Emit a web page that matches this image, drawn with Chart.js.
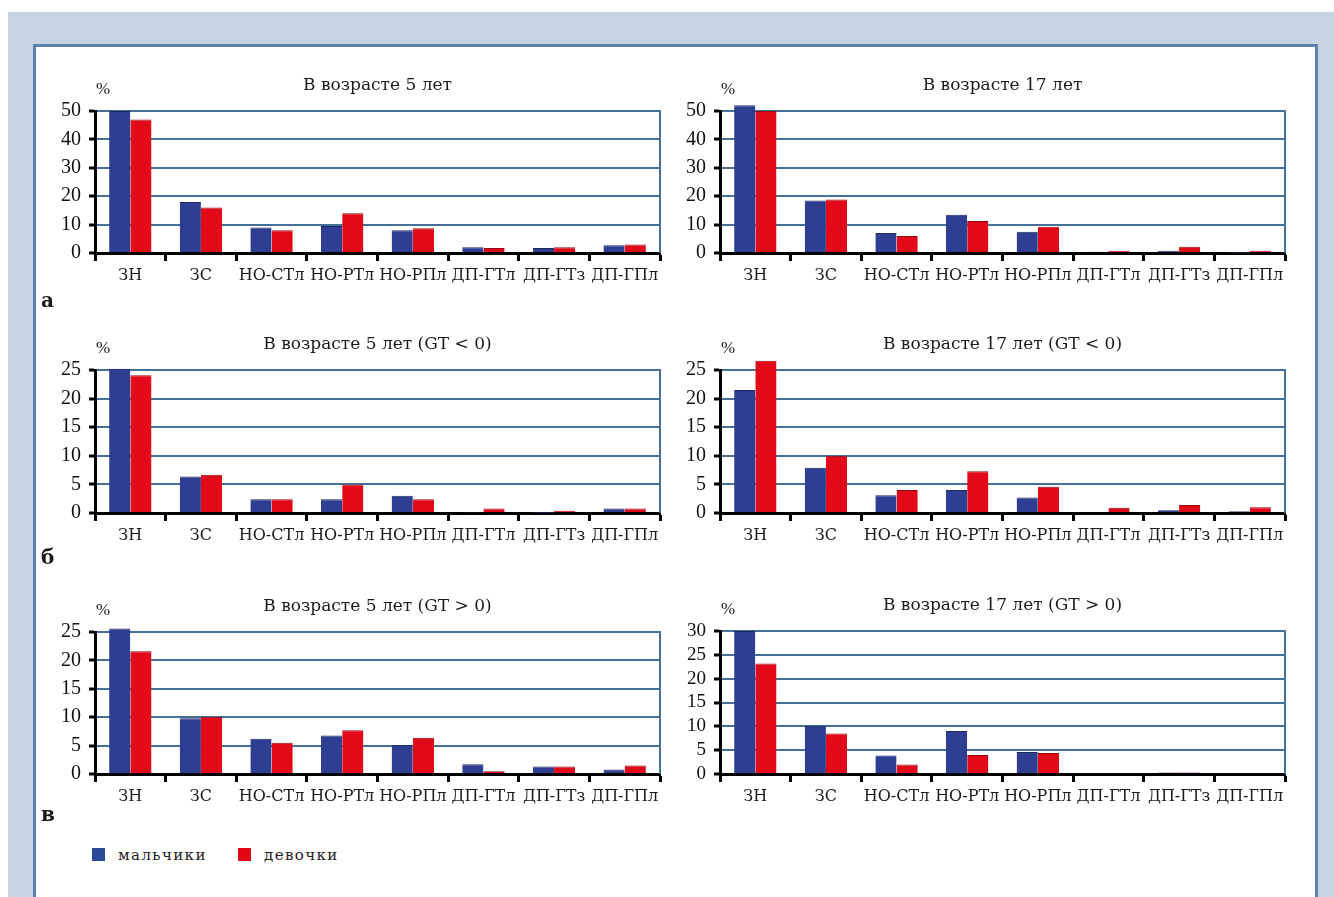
<!DOCTYPE html>
<html lang="ru">
<head>
<meta charset="utf-8">
<title>Распределение по группам</title>
<script src="https://cdn.jsdelivr.net/npm/chart.js@4.4.1/dist/chart.umd.min.js"></script>
<style>
  html, body { margin: 0; padding: 0; background: #ffffff; }
  body { width: 1334px; height: 897px; position: relative; overflow: hidden; font-family: "DejaVu Serif", serif; }
  .bg { position: absolute; left: 8px; top: 12px; right: 0; bottom: 0; background: #c6d4e4; }
  .panel { position: absolute; left: 33px; top: 44px; width: 1285px; height: 900px; box-sizing: border-box;
           background: #ffffff; border: 3px solid #5a84ad; }
  .chart-box { position: absolute; width: 630px; }
  .chart-box canvas { display: block; }
  .row-letter { position: absolute; left: 41px; font-size: 20px; font-weight: bold; color: #1a1a1a; line-height: 1; }
  .legend { position: absolute; top: 846px; left: 92px; font-size: 15px; letter-spacing: 1.4px; color: #222; }
  .legend span.item { position: absolute; white-space: nowrap; top: 0; }
  .legend i { display: inline-block; width: 13px; height: 13px; vertical-align: -1px; margin-right: 13px; }
</style>
</head>
<body>
<div class="bg"></div>
<div class="panel"></div>

<div class="chart-box" style="left:40px; top:72px;"><canvas id="c1" width="630" height="221"></canvas></div>
<div class="chart-box" style="left:665px; top:72px;"><canvas id="c2" width="630" height="221"></canvas></div>
<div class="chart-box" style="left:40px; top:331px;"><canvas id="c3" width="630" height="222"></canvas></div>
<div class="chart-box" style="left:665px; top:331px;"><canvas id="c4" width="630" height="222"></canvas></div>
<div class="chart-box" style="left:40px; top:593px;"><canvas id="c5" width="630" height="221"></canvas></div>
<div class="chart-box" style="left:665px; top:592px;"><canvas id="c6" width="630" height="222"></canvas></div>

<div class="row-letter" style="top:290px;">а</div>
<div class="row-letter" style="top:547px;">б</div>
<div class="row-letter" style="top:804px;">в</div>

<div class="legend">
  <span class="item" style="left:0;"><i style="background:#2b4a9b;"></i>мальчики</span>
  <span class="item" style="left:146px;"><i style="background:#e30613;"></i>девочки</span>
</div>

<script>
// Categories shared by all six panels
const categories = ['ЗН', 'ЗС', 'НО-СТл', 'НО-РТл', 'НО-РПл', 'ДП-ГТл', 'ДП-ГТз', 'ДП-ГПл'];
const seriesNames = ['мальчики', 'девочки'];

// Panel titles
const titles = [
  'В возрасте 5 лет',
  'В возрасте 17 лет',
  'В возрасте 5 лет (GT < 0)',
  'В возрасте 17 лет (GT < 0)',
  'В возрасте 5 лет (GT > 0)',
  'В возрасте 17 лет (GT > 0)'
];

// Percentages, boys / girls
const boys5       = [50, 18, 9, 9.5, 8, 2, 1.8, 2.7];
const girls5      = [47, 16, 8, 14, 8.7, 1.8, 2, 3];
const boys17      = [52, 18.5, 7, 13.5, 7.5, 0.4, 0.8, 0.2];
const girls17     = [50, 18.8, 6, 11.3, 9.2, 0.8, 2.2, 0.8];
const boys5Neg    = [25.2, 6.4, 2.4, 2.4, 3, 0.15, 0.1, 0.8];
const girls5Neg   = [24.1, 6.7, 2.4, 5, 2.4, 0.8, 0.4, 0.8];
const boys17Neg   = [21.5, 7.9, 3.1, 4, 2.7, 0, 0.5, 0.3];
const girls17Neg  = [26.6, 10, 4, 7.3, 4.6, 0.9, 1.4, 1];
const boys5Pos    = [25.6, 9.8, 6.2, 6.8, 5.1, 1.7, 1.3, 0.8];
const girls5Pos   = [21.6, 10.1, 5.5, 7.7, 6.4, 0.5, 1.3, 1.5];
const boys17Pos   = [30, 10.1, 3.9, 9, 4.6, 0.2, 0.3, 0];
const girls17Pos  = [23.2, 8.5, 2, 4, 4.4, 0, 0.3, 0];

// Value axis ranges
const axisMax  = [50, 50, 25, 25, 25, 30];
const axisStep = [10, 10, 5, 5, 5, 5];

const panels = [
  [boys5, girls5], [boys17, girls17],
  [boys5Neg, girls5Neg], [boys17Neg, girls17Neg],
  [boys5Pos, girls5Pos], [boys17Pos, girls17Pos]
];

const BLUE = '#2e3e92';
const RED = '#e20a18';
const GRID = '#44709a';

// Draws the panel title, the "%" unit and the right frame edge of the plot area
const panelDecor = {
  id: 'panelDecor',
  beforeDatasetsDraw(chart, args, opts) {
    const a = chart.chartArea;
    const ctx = chart.ctx;
    ctx.save();
    ctx.strokeStyle = GRID;
    ctx.lineWidth = 2;
    ctx.beginPath();
    ctx.moveTo(a.right, a.top - 1);
    ctx.lineTo(a.right, a.bottom);
    ctx.stroke();
    ctx.restore();
  },
  afterDraw(chart, args, opts) {
    const a = chart.chartArea;
    const ctx = chart.ctx;
    ctx.save();
    ctx.fillStyle = '#1a1a1a';
    ctx.textBaseline = 'middle';
    ctx.textAlign = 'center';
    ctx.font = '17px "DejaVu Serif"';
    ctx.fillText(opts.title, (a.left + a.right) / 2, a.top - 25);
    ctx.font = '17px "Liberation Serif"';
    ctx.fillText('%', a.left + 8, a.top - 21);
    ctx.restore();
  }
};

panels.forEach((pair, i) => {
  new Chart(document.getElementById('c' + (i + 1)), {
    type: 'bar',
    data: {
      labels: categories,
      datasets: pair.map((values, k) => ({
        label: seriesNames[k],
        data: values,
        backgroundColor: k === 0 ? BLUE : RED,
        borderColor: k === 0 ? '#1d275e' : '#8e0c12',
        borderWidth: { top: 1, left: 0, right: 0, bottom: 0 },
        borderSkipped: 'start',
        categoryPercentage: 0.6,
        barPercentage: 1.0,
        clip: false
      }))
    },
    options: {
      responsive: false,
      animation: false,
      layout: { padding: { top: 39, right: 10, left: 0, bottom: 0 } },
      plugins: {
        legend: { display: false },
        tooltip: { enabled: false },
        title: { display: false },
        panelDecor: { title: titles[i] }
      },
      scales: {
        x: {
          offset: true,
          grid: {
            offset: true,
            drawOnChartArea: false,
            drawTicks: true,
            tickLength: 8,
            tickColor: '#000',
            tickWidth: 3
          },
          border: { color: '#000', width: 3 },
          ticks: {
            color: '#1a1a1a',
            font: { family: 'DejaVu Serif', size: 16 },
            padding: 5,
            maxRotation: 0,
            autoSkip: false
          },
          afterFit(scale) { scale.height = 40; }
        },
        y: {
          min: 0,
          max: axisMax[i],
          grid: {
            color: GRID,
            lineWidth: 2,
            drawTicks: true,
            tickLength: 6,
            tickColor: '#000',
            tickWidth: 3
          },
          border: { color: '#000', width: 3 },
          ticks: {
            stepSize: axisStep[i],
            autoSkip: false,
            color: '#111',
            font: { family: 'Liberation Serif', size: i === 5 ? 19 : 20 },
            padding: 8
          },
          afterFit(scale) { scale.width = 55; }
        }
      }
    },
    plugins: [panelDecor]
  });
});
</script>
</body>
</html>
